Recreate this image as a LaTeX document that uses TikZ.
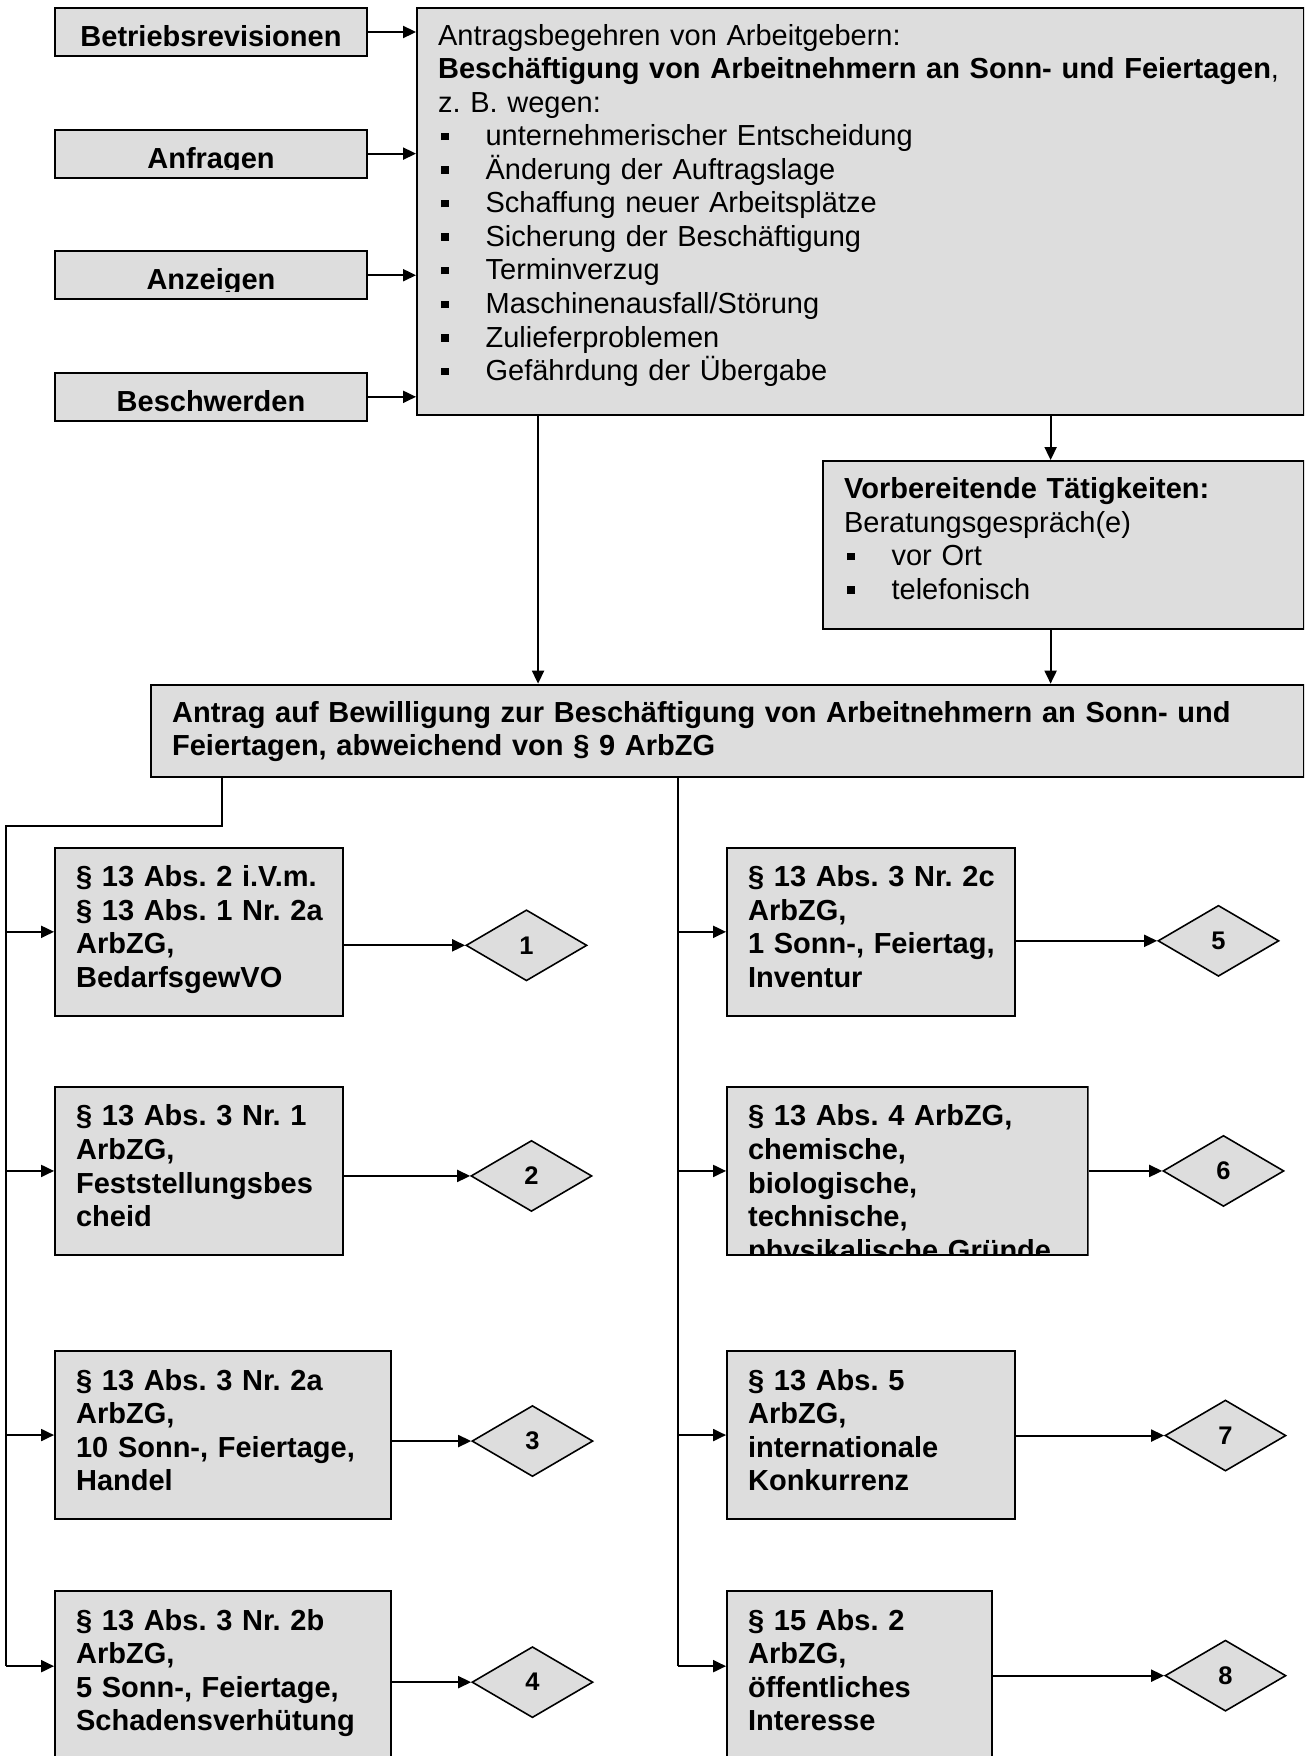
\documentclass[tikz,border=0pt]{standalone}
\usepackage{fontspec}
\setmainfont{Liberation Sans}
\usetikzlibrary{positioning,arrows.meta,shapes.geometric}
\definecolor{boxgray}{RGB}{221,221,221}
\newcommand{\txtsize}{\fontsize{16.5}{19.1}\selectfont\frenchspacing}
\newcommand{\sqitem}{\makebox[0.95cm][l]{\hspace{0.06cm}\rule[0.11cm]{0.15cm}{0.15cm}}}

\begin{document}
\begin{tikzpicture}[>={Triangle[length=0.26cm,width=0.24cm]},
    panel/.style={draw=black, fill=boxgray, line width=1.2pt, inner xsep=0.42cm, inner ysep=0pt, align=left, font=\txtsize},
    inbox/.style={draw=black, fill=boxgray, line width=1.2pt, minimum width=6.24cm, minimum height=0.96cm, inner sep=0pt},
    intext/.style={anchor=base, inner sep=0pt, font=\txtsize\bfseries},
    law/.style={panel, font=\txtsize\bfseries, text height=0.78cm, text depth=2.58cm, text width=#1},
    dia/.style={draw=black, fill=boxgray, diamond, line width=0.9pt, minimum width=2.42cm, minimum height=1.42cm, inner sep=0pt, font=\fontsize{14.5}{17}\selectfont\bfseries},
    conn/.style={line width=1.1pt}]

  \useasboundingbox (0,0) rectangle (26.08,-35.12);
  \clip (0,0) rectangle (26.08,-35.12);

  % sources
  \node[inbox] (betr) at (4.22,-0.64) {};
  \node[inbox, below=1.43cm of betr] (anfr) {};
  \node[inbox, below=1.43cm of anfr] (anze) {};
  \node[inbox, below=1.43cm of anze] (besch) {};
  \foreach \nm/\txt in {betr/Betriebsrevisionen, anfr/Anfragen, anze/Anzeigen, besch/Beschwerden}{
    \begin{scope}
      \clip (\nm.north west) rectangle ([yshift=0.185cm]\nm.south east);
      \node[intext] (\nm-t) at ([yshift=0.21cm]\nm.south) {\txt};
    \end{scope}
  }

  % request
  \node[panel, text width=16.90cm, text height=0.74cm, text depth=7.40cm, anchor=north west] (main) at ([xshift=0.96cm]betr.north east)
    {Antragsbegehren von Arbeitgebern:\\
     \mbox{\textbf{Beschäftigung von Arbeitnehmern an Sonn- und Feiertagen},}\\
     z. B. wegen:\\
     \sqitem unternehmerischer Entscheidung\\
     \sqitem Änderung der Auftragslage\\
     \sqitem Schaffung neuer Arbeitsplätze\\
     \sqitem Sicherung der Beschäftigung\\
     \sqitem Terminverzug\\
     \sqitem Maschinenausfall/Störung\\
     \sqitem Zulieferproblemen\\
     \sqitem Gefährdung der Übergabe};
  \foreach \nm in {betr, anfr, anze, besch}
    \draw[conn, ->] (\nm.east) -- (\nm.east -| main.west);

  \node[panel, text width=8.78cm, text height=0.75cm, text depth=2.61cm, anchor=north east] (vorb) at ([yshift=-0.88cm]main.south east)
    {\textbf{Vorbereitende Tätigkeiten:}\\
     Beratungsgespräch(e)\\
     \sqitem vor Ort\\
     \sqitem telefonisch};

  \node[panel, font=\txtsize\bfseries, text width=22.22cm, text height=0.75cm, text depth=1.09cm, anchor=north east] (antrag) at ([yshift=-1.07cm]vorb.south east)
    {\mbox{Antrag auf Bewilligung zur Beschäftigung von Arbeitnehmern an Sonn- und}\\
     Feiertagen, abweichend von § 9 ArbZG};

  \draw[conn, ->] ([xshift=2.44cm]main.south west) -- ([xshift=2.44cm]main.south west |- antrag.north);
  \draw[conn, ->] ([xshift=-0.26cm]vorb.north |- main.south) -- ([xshift=-0.26cm]vorb.north);
  \draw[conn, ->] ([xshift=-0.26cm]vorb.south) -- ([xshift=-0.26cm]vorb.south |- antrag.north);

  % left column
  \node[law=4.92cm, anchor=north west] (b1) at ([shift={(-1.92,-1.38)}]antrag.south west)
    {\mbox{§ 13 Abs. 2 i.V.m.}\\ \mbox{§ 13 Abs. 1 Nr. 2a}\\ ArbZG,\\ BedarfsgewVO};
  \node[law=4.92cm, below=1.38cm of b1.south west, anchor=north west] (b2)
    {\mbox{§ 13 Abs. 3 Nr. 1}\\ ArbZG,\\ \mbox{Feststellungsbes}\\ cheid};
  \node[law=5.88cm, below=1.88cm of b2.south west, anchor=north west] (b3)
    {\mbox{§ 13 Abs. 3 Nr. 2a}\\ ArbZG,\\ \mbox{10 Sonn-, Feiertage,}\\ Handel};
  \node[law=5.88cm, below=1.40cm of b3.south west, anchor=north west] (b4)
    {\mbox{§ 13 Abs. 3 Nr. 2b}\\ ArbZG,\\ \mbox{5 Sonn-, Feiertage,}\\ \mbox{Schadensverhütung}};

  % right column
  \node[law=4.92cm, anchor=north west] (b5) at ([xshift=13.44cm]b1.north west)
    {\mbox{§ 13 Abs. 3 Nr. 2c}\\ ArbZG,\\ \mbox{1 Sonn-, Feiertag,}\\ Inventur};
  \coordinate[below=1.38cm of b5.south west] (b6nw);
  \begin{scope}
    \clip ([shift={(-0.03,0.03)}]b6nw) rectangle ++(7.28,-3.42);
    \node[law=6.38cm, anchor=north west] (b6) at (b6nw)
      {\mbox{§ 13 Abs. 4 ArbZG,}\\ chemische,\\ biologische,\\ technische,\\ \mbox{physikalische Gründe}};
  \end{scope}
  \node[law=4.92cm, below=1.88cm of b6.south west, anchor=north west] (b7)
    {§ 13 Abs. 5\\ ArbZG,\\ \mbox{internationale}\\ Konkurrenz};
  \node[law=4.46cm, below=1.40cm of b7.south west, anchor=north west] (b8)
    {§ 15 Abs. 2\\ ArbZG,\\ öffentliches\\ Interesse};

  % results
  \node[dia, right=2.42cm of b1, yshift=-0.27cm] (d1) {1};
  \node[dia, right=2.52cm of b2, yshift=-0.10cm] (d2) {2};
  \node[dia, right=1.58cm of b3, yshift=-0.12cm] (d3) {3};
  \node[dia, right=1.58cm of b4, yshift=-0.14cm] (d4) {4};
  \node[dia, right=2.82cm of b5, yshift=-0.18cm] (d5) {5};
  \node[dia, right=1.46cm of b6] (d6) {6};
  \node[dia, right=2.96cm of b7, yshift=-0.01cm] (d7) {7};
  \node[dia, right=3.42cm of b8, yshift=-0.01cm] (d8) {8};
  \foreach \i in {1,...,8}
    \draw[conn, ->] (b\i.east |- d\i.west) -- (d\i.west);

  % branches
  \coordinate (ltrunk) at ([shift={(-2.88,-0.96)}]antrag.south west);
  \coordinate (b4in) at ([yshift=0.18cm]b4.west);
  \draw[conn] ([xshift=1.44cm]antrag.south west) |- (ltrunk) -- (ltrunk |- b4in);
  \foreach \b in {b1,b2,b3,b4in}
    \draw[conn, ->] (ltrunk |- \b) -- (\b -| b1.west);
  \coordinate (rtrunk) at ([xshift=10.56cm]antrag.south west);
  \coordinate (b8in) at ([yshift=0.18cm]b8.west);
  \draw[conn] (rtrunk) -- (rtrunk |- b8in);
  \foreach \b in {b5,b6,b7,b8in}
    \draw[conn, ->] (rtrunk |- \b) -- (\b -| b5.west);
\end{tikzpicture}
\end{document}
